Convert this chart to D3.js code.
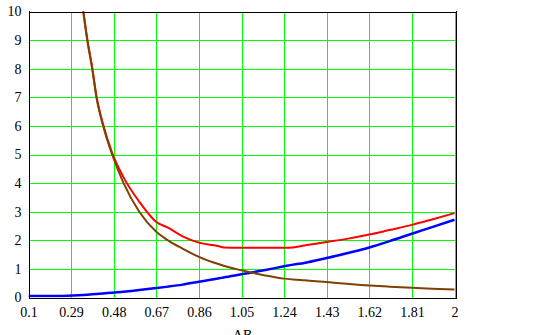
<!DOCTYPE html>
<html>
<head>
<meta charset="utf-8">
<script src="https://cdn.jsdelivr.net/npm/d3@7"></script>
<style>
  html, body { margin: 0; padding: 0; background: #fff; }
  svg { display: block; }
  text { font-family: "Liberation Serif", "Times New Roman", serif; font-size: 14px; fill: #000; }
</style>
</head>
<body>
<svg id="chart" width="539" height="335"></svg>
<script>
// ---- data ----
const xs    = [0.1, 0.2, 0.30, 0.344, 0.362, 0.384, 0.403, 0.433, 0.473, 0.524, 0.594, 0.67, 0.722, 0.787, 0.86, 0.95, 0.97, 1.05, 1.15, 1.24, 1.28, 1.33, 1.43, 1.52, 1.62, 1.71, 1.81, 1.90, 2.0];
const red   = [null, null, 12.9, 10.05, 9.05, 8.05, 7.05, 6.05, 5.06, 4.2, 3.35, 2.64, 2.44, 2.14, 1.92, 1.79, 1.75, 1.74, 1.74, 1.74, 1.75, 1.82, 1.94, 2.05, 2.2, 2.36, 2.54, 2.73, 2.95];
const blue  = [0.05, 0.05, 0.07, 0.09, 0.1, 0.11, 0.12, 0.14, 0.17, 0.2, 0.26, 0.33, 0.38, 0.45, 0.55, 0.67, 0.7, 0.81, 0.95, 1.09, 1.15, 1.21, 1.38, 1.55, 1.75, 1.97, 2.23, 2.46, 2.72];
const brown = [null, null, 12.8, 10, 9, 8, 7, 6, 5, 4, 3, 2.3, 2, 1.71, 1.42, 1.16, 1.11, 0.95, 0.78, 0.66, 0.63, 0.6, 0.54, 0.48, 0.42, 0.38, 0.34, 0.31, 0.28];
const xTicks = [0.1, 0.29, 0.48, 0.67, 0.86, 1.05, 1.24, 1.43, 1.62, 1.81, 2];
const yTicks = [0, 1, 2, 3, 4, 5, 6, 7, 8, 9, 10];
const xTitle = "AB";

(function () {
  const svg = d3.select("#chart");
  const pLeft = 28.5, pRight = 454.5, pTop = 11.5, pBottom = 297.5;
  const x = d3.scaleLinear().domain([0.1, 2]).range([pLeft, pRight]);
  const y = d3.scaleLinear().domain([0, 10]).range([pBottom, pTop]);
  const px = v => Math.round(v) + 0.5;

  svg.append("defs").append("clipPath").attr("id", "clip")
    .append("rect").attr("x", pLeft).attr("y", pTop).attr("width", pRight - pLeft + 1).attr("height", pBottom - pTop);

  // grid
  const g = svg.append("g").attr("shape-rendering", "crispEdges");
  g.selectAll(".vg").data(xTicks).enter().append("line")
    .attr("x1", d => px(x(d))).attr("x2", d => px(x(d)))
    .attr("y1", pTop).attr("y2", pBottom)
    .attr("stroke", "#00ff00").attr("stroke-width", 1);
  g.selectAll(".hg").data(yTicks).enter().append("line")
    .attr("x1", pLeft).attr("x2", pRight + 1)
    .attr("y1", d => px(y(d))).attr("y2", d => px(y(d)))
    .attr("stroke", "#00ff00").attr("stroke-width", 1);

  // curves
  const pts = arr => xs.map((xv, i) => [xv, arr[i]]);
  const line = d3.line()
    .defined(d => d[1] !== null)
    .x(d => x(d[0])).y(d => y(d[1]))
    .curve(d3.curveMonotoneX);
  const curves = svg.append("g").attr("clip-path", "url(#clip)");
  curves.append("path").datum(pts(blue)).attr("d", line)
    .attr("fill", "none").attr("stroke", "#0000ff").attr("stroke-width", 2.5);
  curves.append("path").datum(pts(red)).attr("d", line)
    .attr("fill", "none").attr("stroke", "#ff0000").attr("stroke-width", 2);
  curves.append("path").datum(pts(brown)).attr("d", line)
    .attr("fill", "none").attr("stroke", "#804000").attr("stroke-width", 2);

  // frame (black)
  const f = svg.append("g").attr("shape-rendering", "crispEdges").attr("stroke", "#000").attr("stroke-width", 1);
  f.append("line").attr("x1", px(pLeft)).attr("x2", px(pLeft)).attr("y1", pTop - 0.5).attr("y2", pBottom + 0.5);
  f.append("line").attr("x1", px(pRight) + 1).attr("x2", px(pRight) + 1).attr("y1", pTop - 0.5).attr("y2", pBottom + 0.5);
  f.append("line").attr("x1", pLeft).attr("x2", pRight + 2).attr("y1", px(pTop)).attr("y2", px(pTop));
  f.append("line").attr("x1", pLeft).attr("x2", pRight + 2).attr("y1", px(pBottom)).attr("y2", px(pBottom));

  // axes
  const xAxis = d3.axisBottom(x).tickValues(xTicks).tickSize(0).tickPadding(10)
    .tickFormat(d => String(d));
  const xa = svg.append("g").attr("transform", `translate(0,${pBottom})`).call(xAxis);
  xa.select(".domain").remove();
  xa.selectAll("text").attr("fill", "#000");
  xa.attr("font-family", null).attr("font-size", null);

  const yAxis = d3.axisLeft(y).tickValues(yTicks).tickSize(0).tickPadding(7)
    .tickFormat(d => String(d));
  const ya = svg.append("g").attr("transform", `translate(${pLeft},0)`).call(yAxis);
  ya.select(".domain").remove();
  ya.selectAll("text").attr("fill", "#000");
  ya.attr("font-family", null).attr("font-size", null);

  // x title (partly cut by the bottom edge, as in the reference)
  svg.append("text").attr("x", (pLeft + pRight) / 2 + 1).attr("y", 340)
    .attr("text-anchor", "middle").text(xTitle);
})();
</script>
</body>
</html>
